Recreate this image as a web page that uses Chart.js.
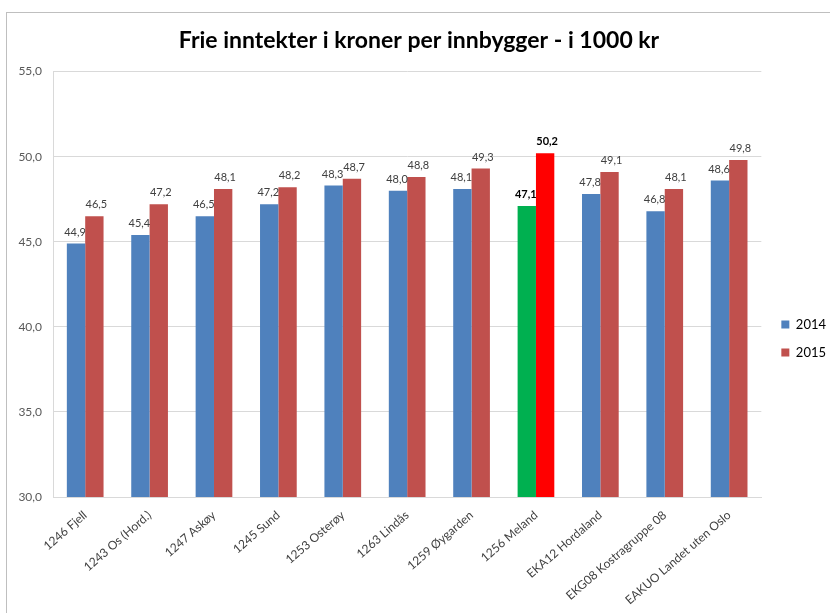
<!DOCTYPE html>
<html>
<head>
<meta charset="utf-8">
<script src="https://cdn.jsdelivr.net/npm/chart.js@4/dist/chart.umd.min.js"></script>
<style>
  body { margin: 0; background: #fff; }
  #wrap { position: absolute; left: 6px; top: 12px; width: 830px; height: 610px; border: 1px solid #bfbfbf; }
  #wrap canvas { display: block; }
</style>
</head>
<body>
<div id="wrap"><canvas id="myChart" width="824" height="601"></canvas></div>
<script>
// values
const categories = ['1246 Fjell', '1243 Os (Hord.)', '1247 Askøy', '1245 Sund', '1253 Osterøy', '1263 Lindås',
    '1259 Øygarden', '1256 Meland', 'EKA12 Hordaland', 'EKG08 Kostragruppe 08', 'EAKUO Landet uten Oslo'];
const values2014 = [44.9, 45.4, 46.5, 47.2, 48.3, 48.0, 48.1, 47.1, 47.8, 46.8, 48.6];
const values2015 = [46.5, 47.2, 48.1, 48.2, 48.7, 48.8, 49.3, 50.2, 49.1, 48.1, 49.8];
const yTicks = [30, 35, 40, 45, 50, 55];
const highlight = 7; // Meland

const fontFam = 'Lato, "Open Sans", sans-serif';
const fmt = v => v.toFixed(1).replace('.', ',');

// bar value labels
const valueLabels = {
    id: 'valueLabels',
    afterDatasetsDraw(chart) {
        const ctx = chart.ctx;
        ctx.save();
        ctx.textAlign = 'center';
        ctx.textBaseline = 'bottom';
        chart.data.datasets.forEach((ds, di) => {
            const meta = chart.getDatasetMeta(di);
            meta.data.forEach((bar, i) => {
                const hi = i == highlight;
                ctx.font = (hi ? 'bold ' : '') + '11px ' + fontFam;
                ctx.fillStyle = hi ? '#000' : '#404040';
                ctx.fillText(fmt(ds.data[i]), bar.x + (di == 0 ? -1 : 2), bar.y - 6);
            });
        });
        ctx.restore();
    }
};

// push the legend a bit lower / right, like the original
const legendShift = {
    id: 'legendShift',
    afterLayout(chart) {
        chart.legend.top += 50;
        chart.legend.left += 5;
    }
};

new Chart(document.getElementById('myChart'), {
    type: 'bar',
    data: {
        labels: categories,
        datasets: [{
            label: '2014',
            data: values2014,
            backgroundColor: values2014.map((v, i) => i == highlight ? '#00B050' : '#4F81BD'),
            categoryPercentage: 0.57,
            barPercentage: 1
        }, {
            label: '2015',
            data: values2015,
            backgroundColor: values2015.map((v, i) => i == highlight ? '#FF0000' : '#C0504D'),
            categoryPercentage: 0.57,
            barPercentage: 1
        }]
    },
    options: {
        responsive: false,
        animation: false,
        layout: { padding: { left: 0, right: 0, top: 0, bottom: 0 } },
        plugins: {
            title: {
                display: true,
                text: 'Frie inntekter i kroner per innbygger - i 1000 kr',
                color: '#000',
                font: { family: fontFam, size: 23, weight: 'bold' },
                padding: { top: 14, bottom: 17 }
            },
            legend: {
                position: 'right',
                labels: {
                    boxWidth: 8,
                    boxHeight: 8,
                    padding: 15,
                    color: '#404040',
                    font: { family: fontFam, size: 13 },
                    generateLabels: chart => chart.data.datasets.map((ds, i) => ({
                        text: ds.label,
                        fillStyle: i == 0 ? '#4F81BD' : '#C0504D',
                        strokeStyle: 'transparent',
                        lineWidth: 0,
                        datasetIndex: i
                    }))
                }
            },
            tooltip: { enabled: false }
        },
        scales: {
            x: {
                grid: { display: false },
                border: { color: '#d9d9d9' },
                ticks: {
                    color: '#404040',
                    font: { family: fontFam, size: 12 },
                    maxRotation: 41,
                    minRotation: 41,
                    autoSkip: false
                },
                afterFit: scale => { scale.height = 117; }
            },
            y: {
                min: 30,
                max: 55,
                afterBuildTicks: scale => { scale.ticks = yTicks.map(v => ({ value: v })); },
                grid: { color: '#d9d9d9', drawTicks: false },
                border: { color: '#d9d9d9' },
                ticks: {
                    color: '#595959',
                    padding: 11,
                    font: { family: fontFam, size: 12 },
                    callback: v => fmt(v)
                },
                afterFit: scale => { scale.width = 46; }
            }
        }
    },
    plugins: [valueLabels, legendShift]
});
</script>
</body>
</html>
